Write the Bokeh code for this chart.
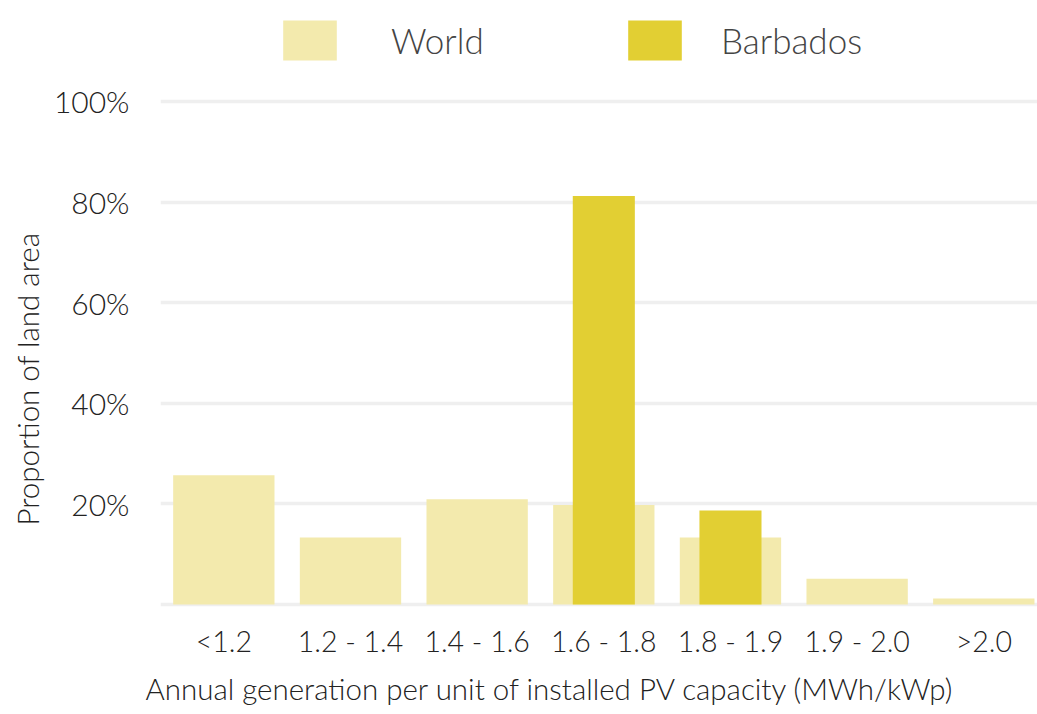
from bokeh.plotting import figure
from bokeh.models import ColumnDataSource, Range1d, FixedTicker, PrintfTickFormatter, Legend, LegendItem, Title
from bokeh.embed import file_html
from bokeh.resources import INLINE

categories = ["<1.2", "1.2 - 1.4", "1.4 - 1.6", "1.6 - 1.8", "1.8 - 1.9", "1.9 - 2.0", ">2.0"]
world = [25.7, 13.3, 20.9, 19.8, 13.3, 5.1, 1.2]
barbados = [0, 0, 0, 81.2, 18.7, 0, 0]
y_ticks = [0, 20, 40, 60, 80, 100]
x_title = "Annual generation per unit of installed PV capacity (MWh/kWp)"
y_title = "Proportion of land area"

FONT = "Lato Light"
positions = list(range(len(categories)))

src = ColumnDataSource(dict(x=positions, world=world, barbados=barbados))

p = figure(width=1037, height=714, output_backend="svg", toolbar_location=None,
           x_range=Range1d(-0.5, 6.424), y_range=Range1d(-0.8, 120.08),
           min_border_left=160, min_border_right=0, min_border_top=0, min_border_bottom=106)
p.outline_line_color = None
p.background_fill_color = "white"

r_world = p.vbar(x="x", top="world", bottom=0, width=0.8, source=src,
                 fill_color="#f3eaad", line_color=None)
r_barb = p.vbar(x="x", top="barbados", bottom=0, width=0.49, source=src,
                fill_color="#e2cf33", line_color=None)

p.xgrid.grid_line_color = None
p.ygrid.grid_line_color = "#efefef"
p.ygrid.grid_line_width = 3.5
p.yaxis.ticker = FixedTicker(ticks=y_ticks)
p.yaxis.formatter = PrintfTickFormatter(format="%d%%")
p.yaxis.major_label_overrides = {0: ""}
p.xaxis.ticker = FixedTicker(ticks=positions)
p.xaxis.major_label_overrides = {i: c for i, c in zip(positions, categories)}

for ax in (p.xaxis[0], p.yaxis[0]):
    ax.axis_line_color = None
    ax.major_tick_line_color = None
    ax.minor_tick_line_color = None
    ax.major_tick_out = 0
    ax.major_tick_in = 0
    ax.major_label_text_font = FONT
    ax.major_label_text_color = "#222222"

p.yaxis.major_label_text_font_size = "30px"
p.xaxis.major_label_text_font_size = "28.5px"
p.yaxis.major_label_standoff = 31
p.xaxis.major_label_standoff = 15

ty = Title(text=y_title, align="left", offset=83, standoff=12,
           text_font=FONT, text_font_size="29.5px", text_font_style="normal",
           text_color="#222222")
p.add_layout(ty, "left")
tx = Title(text=x_title, align="left", offset=-15, standoff=17,
           text_font=FONT, text_font_size="29.5px", text_font_style="normal",
           text_color="#222222")
p.add_layout(tx, "below")

common = dict(orientation="horizontal", glyph_width=67, glyph_height=50,
              spacing=0, padding=0, margin=0, border_line_color=None,
              background_fill_alpha=0, label_text_font=FONT,
              label_text_font_size="35px", label_text_color="#444444",
              label_text_baseline="middle")
leg_world = Legend(items=[LegendItem(label="World", renderers=[r_world])],
                   location=(116, 543), label_standoff=48, **common)
leg_barb = Legend(items=[LegendItem(label="Barbados", renderers=[r_barb])],
                  location=(461, 543), label_standoff=33, **common)
p.add_layout(leg_world, "center")
p.add_layout(leg_barb, "center")

open("out.html", "w").write(file_html(p, INLINE))
